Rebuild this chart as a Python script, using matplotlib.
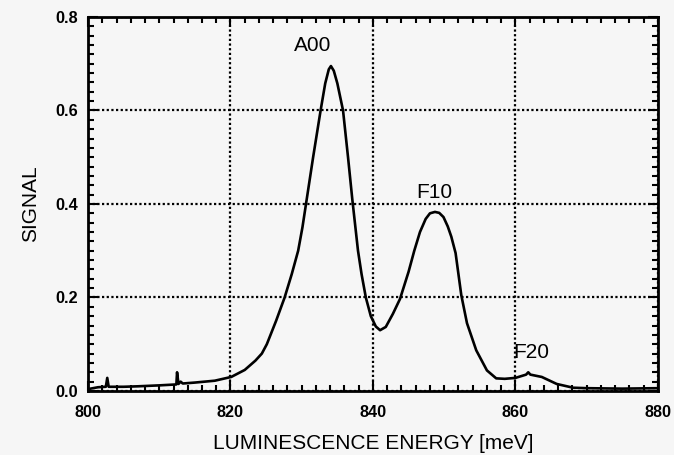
import numpy as np
import matplotlib
matplotlib.use('Agg')
import matplotlib.pyplot as plt
from matplotlib.ticker import MultipleLocator

plt.rcParams['font.family'] = ['Liberation Sans', 'DejaVu Sans']

# luminescence spectrum
energy = [800.0, 801.4, 802.5, 802.7, 802.9, 805.0, 807.0, 810.0, 812.4, 812.5,
          812.7, 813.0, 813.3, 815.0, 817.8, 820.1, 822.0, 823.5, 824.4, 825.1,
          826.4, 827.6, 828.6, 829.5, 830.1, 830.6, 831.6, 832.65, 833.3, 833.8,
          834.1, 834.5, 835.0, 835.8, 836.5, 837.1, 837.9, 838.4, 839.0, 839.7,
          840.4, 841.0, 841.8, 842.8, 843.8, 845.0, 845.8, 846.6, 847.4, 848.0,
          848.7, 849.3, 849.9, 850.5, 851.0, 851.6, 852.4, 853.2, 854.5, 856.0,
          857.3, 858.5, 860.0, 861.5, 861.8, 862.1, 863.7, 865.8, 868.1, 870.0,
          875.0, 880.0]
signal = [0.004, 0.008, 0.009, 0.028, 0.009, 0.009, 0.010, 0.012, 0.014, 0.040,
          0.015, 0.020, 0.016, 0.018, 0.022, 0.030, 0.045, 0.065, 0.080, 0.100,
          0.150, 0.200, 0.250, 0.300, 0.350, 0.400, 0.500, 0.600, 0.658, 0.688,
          0.695, 0.685, 0.658, 0.600, 0.500, 0.410, 0.300, 0.250, 0.200, 0.160,
          0.138, 0.130, 0.137, 0.165, 0.197, 0.255, 0.300, 0.340, 0.368, 0.380,
          0.383, 0.381, 0.372, 0.352, 0.330, 0.295, 0.205, 0.145, 0.087, 0.044,
          0.027, 0.026, 0.028, 0.035, 0.040, 0.035, 0.030, 0.015, 0.007, 0.006,
          0.005, 0.006]

peak_names = ['A00', 'F10', 'F20']
peak_x = [831.6, 848.6, 862.2]
peak_y = [0.738, 0.425, 0.083]

bg = '#f6f6f6'
fig = plt.figure(figsize=(6.74, 4.55), dpi=100, facecolor=bg)
ax = fig.add_axes([0.1306, 0.1407, 0.8455, 0.822], facecolor=bg)

ax.plot(energy, signal, color='black', linewidth=1.9)

for name, x, y in zip(peak_names, peak_x, peak_y):
    ax.text(x, y, name, ha='center', va='center', fontsize=15)

ax.set_xlim(800, 880)
ax.set_ylim(0, 0.8)
ax.xaxis.set_major_locator(MultipleLocator(20))
ax.xaxis.set_minor_locator(MultipleLocator(2))
ax.yaxis.set_major_locator(MultipleLocator(0.2))
ax.yaxis.set_minor_locator(MultipleLocator(0.02))
ax.yaxis.set_major_formatter(plt.FormatStrFormatter('%.1f'))

ax.grid(True, which='major', color='black', linestyle=(0, (1, 1.1)), linewidth=1.6)
ax.tick_params(which='both', direction='in', top=True, right=True, width=1.5,
               labelsize=11.7)
ax.tick_params(which='major', length=7)
ax.tick_params(axis='x', which='major', pad=10)
ax.tick_params(axis='y', which='major', pad=7)
ax.tick_params(which='minor', length=4)
for tl in ax.get_xticklabels() + ax.get_yticklabels():
    tl.set_fontweight('bold')
for s in ax.spines.values():
    s.set_linewidth(2)

ax.set_xlabel('LUMINESCENCE ENERGY [meV]', fontsize=15, labelpad=10)
ax.set_ylabel('SIGNAL', fontsize=15, labelpad=11)

fig.savefig('out.png', dpi=100, facecolor=bg)
